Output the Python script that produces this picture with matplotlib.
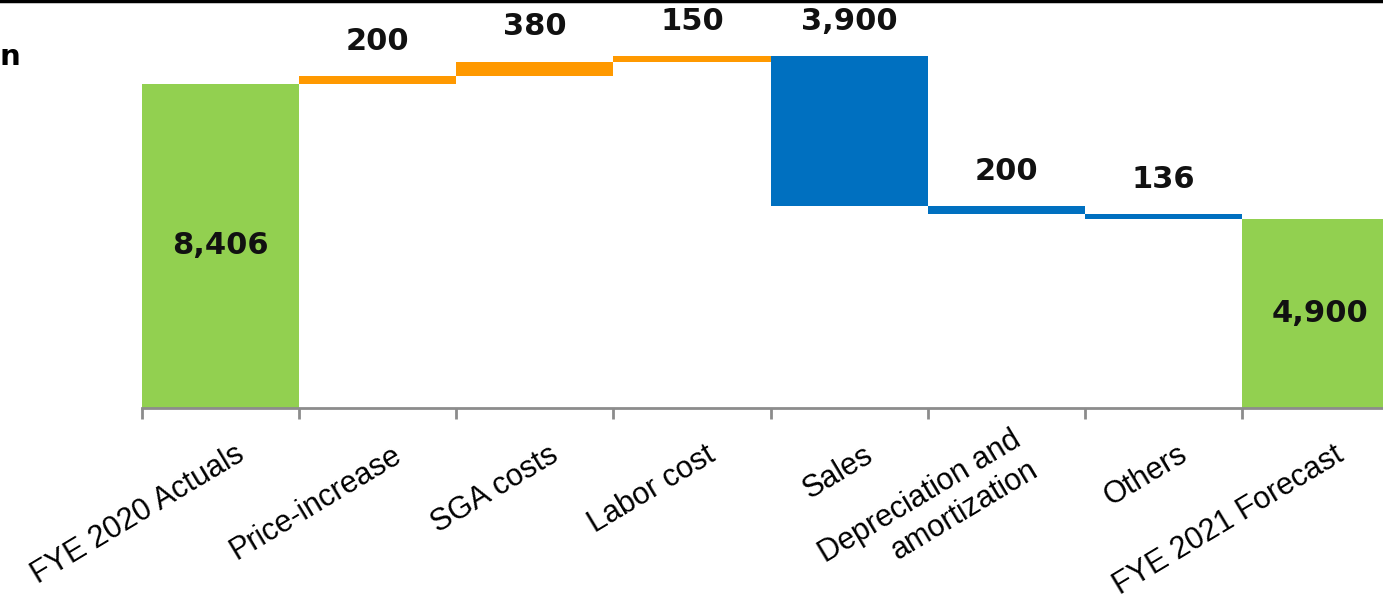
import matplotlib
matplotlib.use("Agg")
import matplotlib.pyplot as plt
from matplotlib.lines import Line2D
import numpy as np

CATEGORIES = ["FYE 2020 Actuals", "Price-increase", "SGA costs", "Labor cost",
              "Sales", "Depreciation and\namortization", "Others",
              "FYE 2021 Forecast"]
START = 8406
CHANGES = [200, 380, 150, -3900, -200, -136]
END = 4900

GREEN = "#92D050"
ORANGE = "#FF9900"
BLUE = "#0070C0"

fig = plt.figure(figsize=(13.83, 5.96), dpi=100)
ax = fig.add_axes([142 / 1383, 188 / 596, 1257 / 1383, 408 / 596])

# running totals for the floating steps
bottoms, heights, colors = [0], [START], [GREEN]
level = START
for ch in CHANGES:
    if ch >= 0:
        bottoms.append(level)
        colors.append(ORANGE)
    else:
        bottoms.append(level + ch)
        colors.append(BLUE)
    heights.append(abs(ch))
    level += ch
bottoms.append(0)
heights.append(END)
colors.append(GREEN)

x = np.arange(len(CATEGORIES))
ax.bar(x, heights, bottom=bottoms, width=1.0, color=colors, linewidth=0)

label_font = dict(fontsize=22, fontweight="bold", family="DejaVu Sans",
                  color="#111111")
# totals labelled inside, steps labelled above
ax.text(x[0], START / 2, f"{START:,}", ha="center", va="center", **label_font)
ax.text(x[-1], END / 2, f"{END:,}", ha="center", va="center", **label_font)
for i, ch in enumerate(CHANGES, start=1):
    top = bottoms[i] + heights[i]
    ax.annotate(f"{abs(ch):,}", (x[i], top), xytext=(0, 25),
                textcoords="offset points", ha="center", va="center",
                **label_font)

ax.set_xlim(-0.5, len(CATEGORIES) - 0.5)
ax.set_ylim(0, 10584)
for s in ["top", "left", "right"]:
    ax.spines[s].set_visible(False)
ax.spines["bottom"].set_color("#8c8c8c")
ax.spines["bottom"].set_linewidth(2)
ax.set_yticks([])

# ticks sit on category boundaries; names are drawn separately
ax.set_xticks(np.arange(-0.5, len(CATEGORIES), 1.0))
ax.set_xticklabels([])
ax.tick_params(axis="x", length=8, width=2, color="#8c8c8c")

for i, name in enumerate(CATEGORIES):
    ax.annotate(name, (x[i] + 0.135, 0), xycoords=("data", "axes fraction"),
                xytext=(0, -32), textcoords="offset points",
                rotation=31, rotation_mode="anchor", ha="right", va="center",
                multialignment="right", fontsize=22, family="Liberation Sans",
                annotation_clip=False)

# heading rule along the top edge and the clipped unit note
fig.add_artist(Line2D([0, 1], [0.9975, 0.9975], color="black", linewidth=2.5,
                      transform=fig.transFigure))
fig.text(0.0, 0.905, "n", fontsize=21, fontweight="bold",
         family="DejaVu Sans", ha="left", va="center")

fig.savefig("out.png", dpi=100)
